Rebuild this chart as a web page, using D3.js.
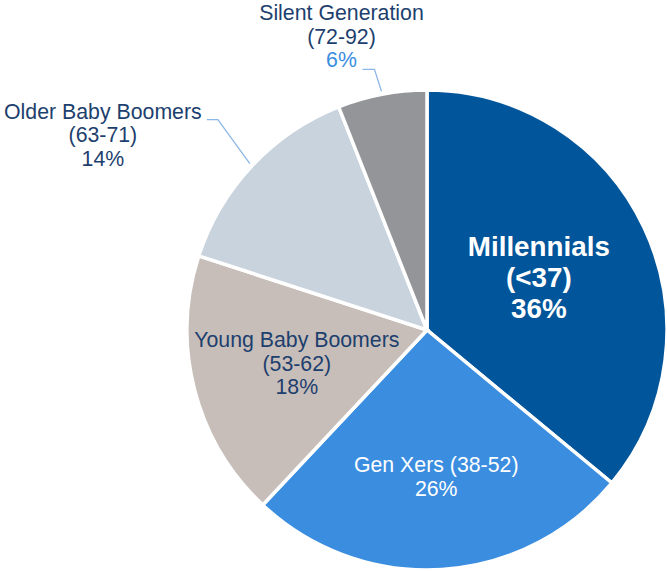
<!DOCTYPE html>
<html>
<head>
<meta charset="utf-8">
<script src="https://cdn.jsdelivr.net/npm/d3@7"></script>
<style>
  html, body { margin: 0; padding: 0; background: #fff; }
  svg { display: block; font-family: "Liberation Sans", Arial, sans-serif; }
</style>
</head>
<body>
<div id="chart"></div>
<script>
// data
const generations = ['Millennials', 'Gen Xers', 'Young Baby Boomers', 'Older Baby Boomers', 'Silent Generation'];
const ageRanges = ['(<37)', '(38-52)', '(53-62)', '(63-71)', '(72-92)'];
const shares = [36, 26, 18, 14, 6];

const width = 667;
const height = 571;
const radius = 240;
const cx = 427, cy = 330;

const colors = d3.scaleOrdinal()
  .domain(generations)
  .range(['#01559a', '#3a8ddf', '#c7beb9', '#c8d3dd', '#939598']);

const navy = '#1d3f6e';

const svg = d3.select('#chart')
  .append('svg')
  .attr('width', width)
  .attr('height', height);

const g = svg.append('g')
  .attr('transform', 'translate(' + cx + ',' + cy + ')');

const data = generations.map((name, i) => ({ name: name, range: ageRanges[i], value: shares[i] }));

const pie = d3.pie().sort(null).value(d => d.value);
const arcs = pie(data);

const arc = d3.arc().innerRadius(0).outerRadius(radius);

g.selectAll('path.slice')
  .data(arcs)
  .enter()
  .append('path')
  .attr('class', 'slice')
  .attr('d', arc)
  .attr('fill', d => colors(d.data.name))
  .attr('stroke', '#fff')
  .style('stroke-width', '3.5px')
  .style('stroke-linejoin', 'miter');

// label placement (inside slices use a radius fraction, outside ones use a leader line)
const labelStyle = {
  'Millennials': { inside: true, r: 0.515, bold: true, size: 27.8, lh: 31, color: '#fff', lines: d => [d.name, d.range, d.value + '%'] },
  'Gen Xers': { inside: true, r: 0.61, size: 21.3, lh: 24, color: '#fff', lines: d => [d.name + ' ' + d.range, d.value + '%'] },
  'Young Baby Boomers': { inside: true, r: 0.56, size: 21.3, lh: 23.5, color: navy, lines: d => [d.name, d.range, d.value + '%'] },
  'Older Baby Boomers': { inside: false, elbow: [-32, -44], tail: -43, text: [-147, -45], size: 21.3, lh: 23.5, color: navy, lines: d => [d.name, d.range, d.value + '%'] },
  'Silent Generation': { inside: false, elbow: [-7, -22], tail: -19, text: [-40, -71], size: 21.3, lh: 23.5, color: navy, pctColor: '#3a8ddf', lines: d => [d.name, d.range, d.value + '%'] }
};

arcs.forEach(d => {
  const s = labelStyle[d.data.name];
  const lines = s.lines(d.data);
  let x, y0;
  if (s.inside) {
    const la = d3.arc().innerRadius(radius * s.r).outerRadius(radius * s.r);
    const c = la.centroid(d);
    x = c[0];
    // vertically centre the block on the centroid
    y0 = c[1] - (lines.length - 1) * s.lh / 2 + s.size * 0.35;
  } else {
    const edgeArc = d3.arc().innerRadius(radius + 3).outerRadius(radius + 3);
    const e = edgeArc.centroid(d);
    const elbow = [e[0] + s.elbow[0], e[1] + s.elbow[1]];
    const tail = [e[0] + s.tail, elbow[1]];
    g.append('path')
      .attr('d', d3.line()([e, elbow, tail]))
      .attr('fill', 'none')
      .attr('stroke', '#8db7e6')
      .attr('stroke-width', 1.3);
    x = e[0] + s.text[0];
    y0 = e[1] + s.text[1];
  }
  const t = g.append('text')
    .attr('text-anchor', 'middle')
    .style('font-size', s.size + 'px')
    .style('font-weight', s.bold ? 'bold' : 'normal')
    .attr('fill', s.color);
  lines.forEach((line, i) => {
    const ts = t.append('tspan')
      .attr('x', x)
      .attr('y', y0 + i * s.lh)
      .text(line);
    if (s.pctColor && i === lines.length - 1) ts.attr('fill', s.pctColor);
  });
});
</script>
</body>
</html>
